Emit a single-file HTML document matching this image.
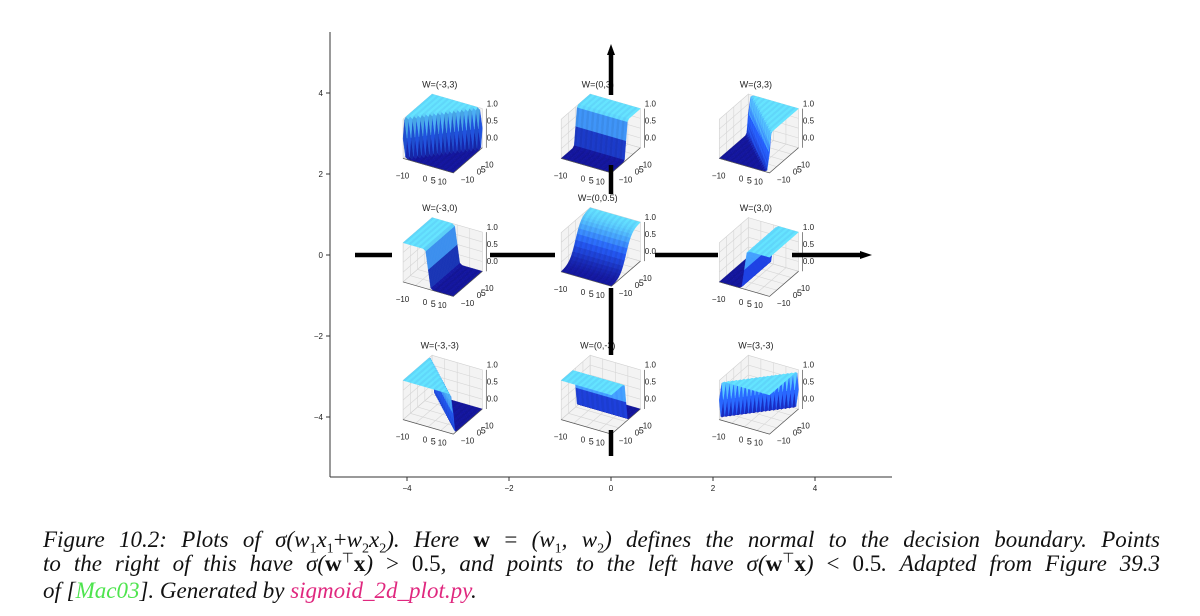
<!DOCTYPE html>
<html><head><meta charset="utf-8">
<style>
body{margin:0;background:#fff;width:1200px;height:616px;overflow:hidden;position:relative;font-family:"Liberation Sans",sans-serif;}
svg{position:absolute;left:0;top:0}
.cap{position:absolute;left:43px;width:1117px;font-family:"Liberation Serif",serif;font-style:italic;font-size:23px;line-height:26px;height:26px;color:#111;white-space:nowrap}
.j{text-align:justify;text-align-last:justify;white-space:normal}
.b{font-weight:bold;font-style:normal}
.u{font-style:normal}
sub,sup{line-height:0;font-size:14px}
</style></head>
<body>
<svg id="chart" width="1200" height="616" viewBox="0 0 1200 616"></svg>
<div class="cap j" style="top:527px">Figure 10.2: Plots of σ(w<sub class="u">1</sub>x<sub class="u">1</sub><span class="u">+</span>w<sub class="u">2</sub>x<sub class="u">2</sub>). Here <span class="b">w</span> <span class="u">=</span> (w<sub class="u">1</sub>, w<sub class="u">2</sub>) defines the normal to the decision boundary. Points</div>
<div class="cap j" style="top:551px">to the right of this have σ(<span class="b">w</span><sup class="u">⊤</sup><span class="b">x</span>) <span class="u">&gt; 0.5</span>, and points to the left have σ(<span class="b">w</span><sup class="u">⊤</sup><span class="b">x</span>) <span class="u">&lt; 0.5</span>. Adapted from Figure 39.3</div>
<div class="cap" style="top:578px">of [<span style="color:#4ee44e">Mac03</span>]. Generated by <span style="color:#e0287f">sigmoid_2d_plot.py</span>.</div>
<script>
const xTicks=[-4,-2,0,2,4];
const yTicks=[4,2,0,-2,-4];
const weights1=[-3,0,3,-3,0,3,-3,0,3];
const weights2=[3,3,3,0,0.5,0,-3,-3,-3];
const titles=["W=(-3,3)","W=(0,3)","W=(3,3)","W=(-3,0)","W=(0,0.5)","W=(3,0)","W=(-3,-3)","W=(0,-3)","W=(3,-3)"];
const plotX=[-3.3,-0.2,2.9,-3.3,-0.2,2.9,-3.3,-0.2,2.9];
const plotY=[3.0,3.0,3.0,-0.05,0.2,-0.05,-3.45,-3.45,-3.45];

const NS="http://www.w3.org/2000/svg";
const svg=document.getElementById('chart');
const X=v=>611+v*51, Y=v=>255-v*40.5;
function el(t,a,p){const e=document.createElementNS(NS,t);for(const k in a)e.setAttribute(k,a[k]);(p||svg).appendChild(e);return e;}
function txt(x,y,s,o,p){const e=el('text',Object.assign({x:x,y:y,'font-size':9,fill:'#222','font-family':'Liberation Sans, sans-serif'},o||{}),p);e.textContent=s;return e;}

const ax=el('line',{x1:330,y1:32,x2:330,y2:477,stroke:'#333','stroke-width':1});

const bx=el('line',{x1:330,y1:477,x2:892,y2:477,stroke:'#333','stroke-width':1});

xTicks.forEach(v=>{el('line',{x1:X(v),y1:477,x2:X(v),y2:481,stroke:'#333'});
 const t=txt(X(v),491,v<0?'−'+(-v):String(v),{'text-anchor':'middle','font-size':8});
 });
yTicks.forEach(v=>{el('line',{x1:326,y1:Y(v),x2:330,y2:Y(v),stroke:'#333'});
 const t=txt(323,Y(v)+3,v<0?'−'+(-v):String(v),{'text-anchor':'end','font-size':8});
 });

const a=-60*Math.PI/180,e=30*Math.PI/180;
const R=[-Math.sin(a),Math.cos(a),0], U=[-Math.sin(e)*Math.cos(a),-Math.sin(e)*Math.sin(a),Math.cos(e)];
const C=[Math.cos(e)*Math.cos(a),Math.cos(e)*Math.sin(a),Math.sin(e)];
const S=29, ZS=0.78;
const dot=(p,q)=>p[0]*q[0]+p[1]*q[1]+p[2]*q[2];
function lerp(c1,c2,t){return c1.map((v,i)=>Math.round(v+(c2[i]-v)*t));}
function col(z,sh){let c=z<0.5?lerp([18,20,150],[35,90,240],z*2):lerp([35,90,240],[95,215,250],(z-0.5)*2);
 c=c.map(v=>Math.max(0,Math.min(255,Math.round(v*sh))));return `rgb(${c})`;}

function subplot(i){
 const cx=X(plotX[i]),cy=Y(plotY[i]),w1=weights1[i],w2=weights2[i];
 const g=el('g',{});
 
 
 const P=(x,y,z)=>{const q=[x,y,(z*2-1)*ZS];return [cx+S*dot(q,R),cy-S*dot(q,U)];};
 const pts=a=>a.map(p=>p.join(',')).join(' ');
 const pane=(corners)=>el('polygon',{points:pts(corners),fill:'#f3f3f3',stroke:'#d0d0d0','stroke-width':0.6},g);
 pane([P(-1,-1,0),P(-1,1,0),P(-1,1,1),P(-1,-1,1)]);
 pane([P(-1,1,0),P(1,1,0),P(1,1,1),P(-1,1,1)]);
 pane([P(-1,-1,0),P(1,-1,0),P(1,1,0),P(-1,1,0)]);
 [-0.5,0,0.5].forEach(t=>{
  let A=P(t,-1,0),B=P(t,1,0),D=P(t,1,1);el('polyline',{points:pts([A,B,D]),fill:'none',stroke:'#d6d6d6','stroke-width':0.6},g);
  A=P(-1,t,0);B=P(1,t,0);D=P(-1,t,1);el('polyline',{points:pts([B,A,D]),fill:'none',stroke:'#d6d6d6','stroke-width':0.6},g);
 });
 [0.25,0.5,0.75].forEach(z=>{el('polyline',{points:pts([P(-1,-1,z),P(-1,1,z),P(1,1,z)]),fill:'none',stroke:'#d6d6d6','stroke-width':0.6},g);});
 const N=20,quads=[];
 const f=(u,v)=>1/(1+Math.exp(-(w1*u*10+w2*v*10)));
 for(let ix=0;ix<N;ix++)for(let iy=0;iy<N;iy++){
  const u0=-1+2*ix/N,u1=-1+2*(ix+1)/N,v0=-1+2*iy/N,v1=-1+2*(iy+1)/N;
  const z00=f(u0,v0),z10=f(u1,v0),z11=f(u1,v1),z01=f(u0,v1);
  const zm=(z00+z10+z11+z01)/4;
  const d=dot([(u0+u1)/2,(v0+v1)/2,(zm*2-1)*ZS],C);
  const gx=(z10+z11-z00-z01)/2,gy=(z01+z11-z00-z10)/2;
  const sh=1+0.25*(gx*0.8-gy*0.4)+((ix%2)?0.06:0);
  quads.push({d:d,p:[P(u0,v0,z00),P(u1,v0,z10),P(u1,v1,z11),P(u0,v1,z01)],z:zm,sh:sh});
 }
 quads.sort((p,q)=>p.d-q.d).forEach(q=>{const c=col(q.z,q.sh);el('polygon',{points:pts(q.p),fill:c,stroke:c,'stroke-width':0.4},g);});
 el('polyline',{points:pts([P(-1,-1,0),P(1,-1,0),P(1,1,0)]),fill:'none',stroke:'#555','stroke-width':0.7},g);
 el('line',{x1:P(1,1,0)[0]+4,y1:P(1,1,0)[1],x2:P(1,1,1)[0]+4,y2:P(1,1,1)[1],stroke:'#555','stroke-width':0.7},g);
 const t=txt(cx-3,cy-46,titles[i],{'text-anchor':'middle','font-size':9});
 
 ['1.0','0.5','0.0'].forEach((s,k)=>txt(cx+44,cy-27+k*17,s,{'font-size':8},g));
 txt(cx-47,cy+45,'−10',{'font-size':8},g);txt(cx-20,cy+48,'0',{'font-size':8},g);
 txt(cx-12,cy+50,'5',{'font-size':9},g);txt(cx-5,cy+51,'10',{'font-size':8},g);
 txt(cx+18,cy+49,'−10',{'font-size':8},g);txt(cx+34,cy+41,'0',{'font-size':8},g);
 txt(cx+38,cy+39,'5',{'font-size':9},g);txt(cx+42,cy+34,'10',{'font-size':8},g);
}
for(let i=0;i<9;i++)subplot(i);

const arr=el('g',{});
[[355,392],[490,555],[655,718],[792,862]].forEach(s=>el('line',{x1:s[0],y1:255,x2:s[1],y2:255,stroke:'#000','stroke-width':4.5},arr));
el('polygon',{points:'872,255 860,251 860,259',fill:'#000'},arr);
[[52,95],[165,194],[288,355],[430,456]].forEach(s=>el('line',{x1:611,y1:s[0],x2:611,y2:s[1],stroke:'#000','stroke-width':4.5},arr));
el('polygon',{points:'611,44 607,55 615,55',fill:'#000'},arr);
</script>
</body></html>
